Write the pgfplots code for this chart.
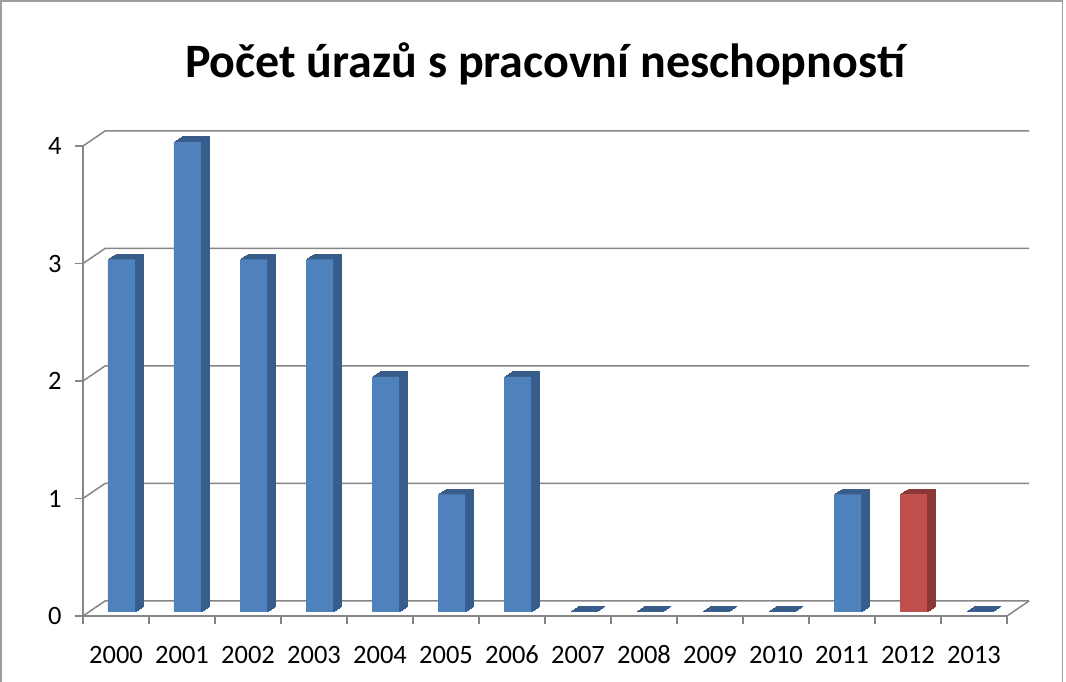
\documentclass[border=0pt]{standalone}
\usepackage{fontspec}
\setmainfont{Carlito}
\usepackage{pgfplots}
\usepackage{pgfplotstable}
\pgfplotsset{compat=1.18}
\definecolor{barblue}{HTML}{4F81BD}
\definecolor{bardark}{HTML}{385D8A}
\definecolor{barred}{HTML}{C0504D}
\definecolor{reddark}{HTML}{8C3836}
\definecolor{gridc}{HTML}{868686}

\pgfplotstableread{
x y
0 3
1 4
2 3
3 3
4 2
5 1
6 2
7 0
8 0
9 0
10 0
11 1
13 0
}\bluedata
\pgfplotstableread{
x y
12 1
}\reddata

\begin{document}
\begin{tikzpicture}[x=1pt,y=1pt]
\path[use as bounding box] (-83,-66) rectangle (983,616);
\draw[gridc!80, line width=1.5pt] (-82.2,-66.5) rectangle (979.5,615.2);
\node[font=\bfseries\fontsize{48}{48}\selectfont] at (462,552) {Počet úrazů s pracovní neschopností};
\begin{axis}[
  at={(0pt,0pt)}, anchor=south west,
  scale only axis, width=924pt, height=470pt,
  xmin=-0.5, xmax=13.5, ymin=0, ymax=4,
  clip=false,
  axis lines*=left,
  axis line style={gridc, line width=1.5pt},
  ytick={0,1,2,3,4},
  xtick={0,...,13},
  xticklabels={2000,2001,2002,2003,2004,2005,2006,2007,2008,2009,2010,2011,2012,2013},
  minor xtick={-0.5,0.5,...,13.5},
  tick align=outside,
  major tick length=8pt, minor tick length=8pt,
  major x tick style={draw=none},
  minor x tick style={gridc, line width=1.5pt},
  ytick style={gridc, line width=1.5pt},
  /pgf/number format/assume math mode=true,
  ticklabel style={font=\fontsize{26.5}{26.5}\selectfont, text=black},
  xticklabel style={yshift=-18pt, text height=18pt, text depth=2pt},
  yticklabel style={xshift=-10pt},
]
\pgfplotsinvokeforeach{0,1,2,3,4}{
  \draw[gridc, line width=1.5pt] (axis cs:-0.5,#1) -- ([shift={(22pt,15pt)}]axis cs:-0.5,#1) -- ([shift={(22pt,15pt)}]axis cs:13.5,#1);
}
\draw[gridc, line width=1.5pt] (axis cs:13.5,0) -- ([shift={(22pt,15pt)}]axis cs:13.5,0);
\pgfplotsinvokeforeach{1,2,3,4,5,6,7,8}{
  \addplot[ybar, bar width=27pt, bar shift=0pt, fill=bardark, draw=bardark, line width=0.8pt, xshift={5.5pt+#1*1pt}, yshift={4pt+#1*0.65pt}] table[x=x,y=y]{\bluedata};
  \addplot[ybar, bar width=27pt, bar shift=0pt, fill=reddark, draw=reddark, line width=0.8pt, xshift={5.5pt+#1*1pt}, yshift={4pt+#1*0.65pt}] table[x=x,y=y]{\reddata};
}
\addplot[ybar, bar width=27pt, bar shift=0pt, fill=barblue, draw=none, xshift=5.5pt, yshift=4pt] table[x=x,y=y]{\bluedata};
\addplot[ybar, bar width=27pt, bar shift=0pt, fill=barred, draw=none, xshift=5.5pt, yshift=4pt] table[x=x,y=y]{\reddata};
\end{axis}
\end{tikzpicture}
\end{document}
